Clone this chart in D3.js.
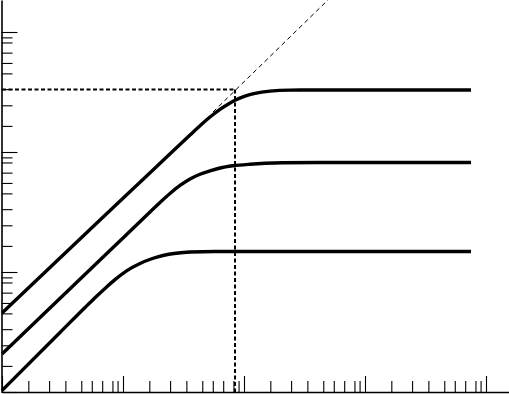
<!DOCTYPE html>
<html>
<head>
<meta charset="utf-8">
<script src="https://cdn.jsdelivr.net/npm/d3@7"></script>
<style>
  html, body { margin: 0; padding: 0; background: #fff; }
  svg { display: block; }
</style>
</head>
<body>
<svg id="chart" width="509" height="394"></svg>
<script>
// ---- data (log-log axes, no labels) ----
const xMajorTicks = [1, 10, 100, 1000, 10000];
const yMajorTicks = [1, 10, 100, 1000];
// minor tick multipliers inside each decade, as placed in the original
const minorMultipliers = [1.65, 2.45, 3.34, 4.52, 5.52, 6.73, 8.18, 9.02];
const xMinorDecades = [1, 10, 100, 1000];
const yMinorDecades = [1, 10, 100];

// three saturating curves: [x, y]
const curveHigh = [[1, 4.553], [6.455, 27.13], [17.70, 70.79], [35.79, 138.6], [43.29, 165.7],
  [52.36, 195.7], [63.34, 226.9], [73.77, 250.3], [84.26, 269.5], [101.9, 291.7], [123.3, 307.8],
  [164.0, 321.4], [240.0, 327.6], [424.7, 328.6], [7516, 328.6]];
const curveMid = [[1, 2.073], [8.111, 15.70], [16.72, 31.62], [20.22, 37.95], [24.45, 45.10],
  [29.59, 52.59], [35.79, 59.57], [43.29, 65.31], [52.36, 69.72], [63.34, 73.56], [81.11, 76.74],
  [112.1, 79.13], [210.1, 81.28], [424.7, 81.75], [7516, 81.75]];
const curveLow = [[1, 1.029], [3.015, 3.132], [4.853, 5.061], [5.871, 6.107], [7.100, 7.301],
  [8.587, 8.643], [10.79, 10.27], [13.82, 11.77], [17.03, 12.83], [21.41, 13.72], [27.42, 14.32],
  [35.79, 14.68], [57.58, 14.81], [7516, 14.82]];

// reference (dashed) lines
const refX = 84.3;
const refY = 331;
const diagonal = [[55.44, 215.4], [513.6, 1920]];

// ---- drawing ----
const W = 509, H = 394;
const svg = d3.select('#chart');
svg.append('rect').attr('width', W).attr('height', H).attr('fill', '#fff');

const x = d3.scaleLog().domain([1, Math.pow(10, 507 / 121)]).range([2, 509]);
const y = d3.scaleLog().domain([1, Math.pow(10, 392 / 120)]).range([392, 0]);

const xMinor = [], yMinor = [];
xMinorDecades.forEach(d => minorMultipliers.forEach(m => xMinor.push(d * m)));
yMinorDecades.forEach(d => minorMultipliers.forEach(m => yMinor.push(d * m)));

function styleAxis(g, keepDomain) {
  g.selectAll('text').remove();
  g.selectAll('.tick line').attr('stroke', '#000').attr('stroke-width', 1.1);
  if (!keepDomain) g.select('.domain').remove();
  else g.select('.domain').attr('stroke', '#000').attr('stroke-width', 1.6);
}

// bottom axis (ticks point up into the plot)
svg.append('g').attr('transform', `translate(0,${y(1)})`)
  .call(d3.axisTop(x).tickValues(xMinor).tickSize(11).tickSizeOuter(0).tickFormat(''))
  .call(g => styleAxis(g, false));
svg.append('g').attr('transform', `translate(0,${y(1)})`)
  .call(d3.axisTop(x).tickValues(xMajorTicks).tickSize(16).tickSizeOuter(0).tickFormat(''))
  .call(g => styleAxis(g, true));

// left axis (ticks point right into the plot)
svg.append('g').attr('transform', `translate(${x(1) - 0.5},0)`)
  .call(d3.axisRight(y).tickValues(yMinor).tickSize(11).tickSizeOuter(0).tickFormat(''))
  .call(g => styleAxis(g, false));
svg.append('g').attr('transform', `translate(${x(1) - 0.5},0)`)
  .call(d3.axisRight(y).tickValues(yMajorTicks).tickSize(16).tickSizeOuter(0).tickFormat(''))
  .call(g => styleAxis(g, true));

// dashed reference lines
svg.append('line')
  .attr('x1', x(1)).attr('x2', x(refX)).attr('y1', y(refY)).attr('y2', y(refY))
  .attr('stroke', '#000').attr('stroke-width', 2).attr('stroke-dasharray', '4,2.5');
svg.append('line')
  .attr('x1', x(refX)).attr('x2', x(refX)).attr('y1', y(refY)).attr('y2', y(1))
  .attr('stroke', '#000').attr('stroke-width', 2).attr('stroke-dasharray', '4,2.5');
svg.append('path')
  .attr('d', d3.line().x(d => x(d[0])).y(d => y(d[1]))(diagonal))
  .attr('fill', 'none').attr('stroke', '#000').attr('stroke-width', 1)
  .attr('stroke-dasharray', '4.5,3.5');

// curves
const line = d3.line().x(d => x(d[0])).y(d => y(d[1])).curve(d3.curveMonotoneX);
[curveHigh, curveMid, curveLow].forEach(c => {
  svg.append('path').attr('d', line(c))
    .attr('fill', 'none').attr('stroke', '#000').attr('stroke-width', 3.4)
    .attr('stroke-linecap', 'butt').attr('stroke-linejoin', 'round');
});
</script>
</body>
</html>
